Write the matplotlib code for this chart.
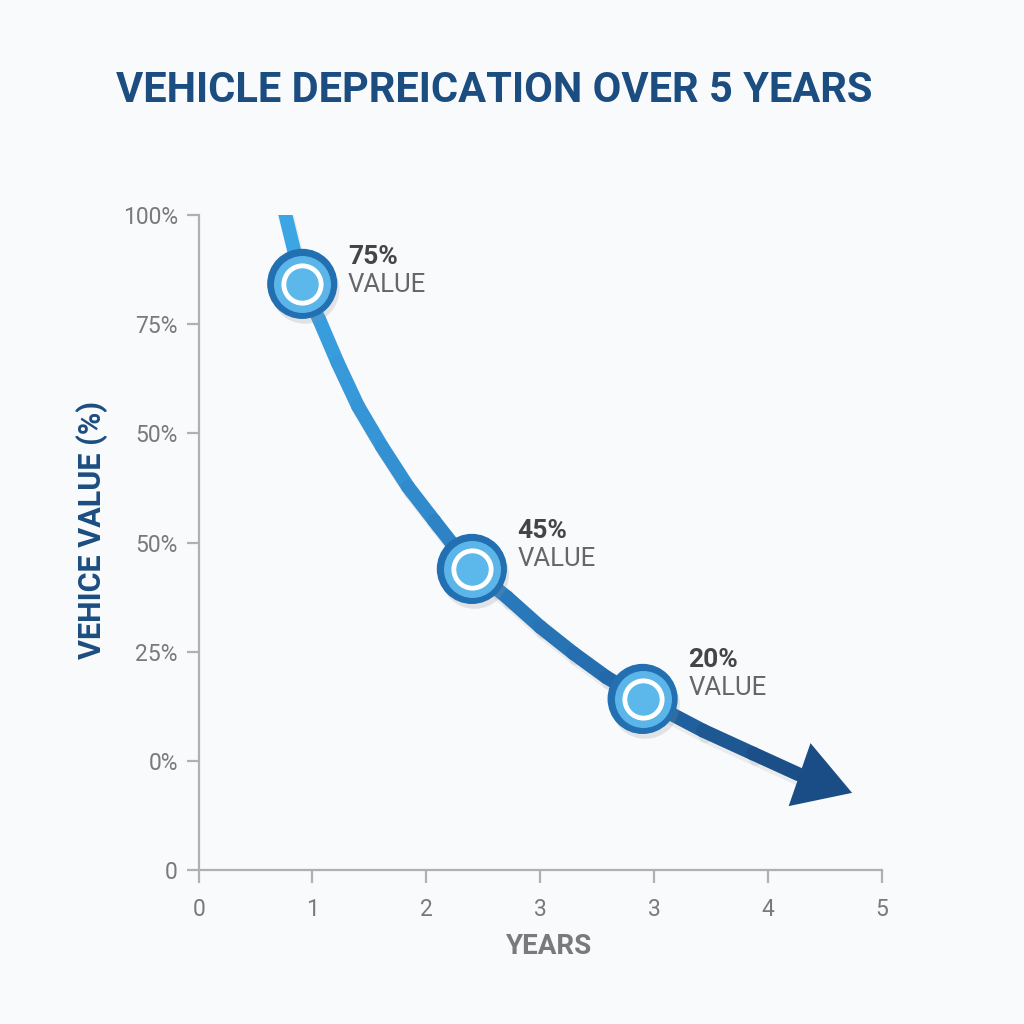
import numpy as np
import matplotlib
matplotlib.use("Agg")
import matplotlib.pyplot as plt
import matplotlib.patheffects as pe
from matplotlib.collections import LineCollection
from matplotlib.colors import LinearSegmentedColormap
from matplotlib import font_manager

# Tick positions and their (odd) labels, as shown in the picture
X_TICKS = [0, 1, 2, 3, 4, 5, 6]
X_LABELS = ["0", "1", "2", "3", "3", "4", "5"]
Y_TICKS = [0, 1, 2, 3, 4, 5, 6]
Y_LABELS = ["0", "0%", "25%", "50%", "50%", "75%", "100%"]

# Depreciation curve (axis units); last point is arrow tip
CURVE_X = [0.76, 0.91, 1.06, 1.22, 1.40, 1.61, 1.84, 2.07, 2.40, 2.71, 3.00,
           3.29, 3.58, 3.90, 4.43, 4.87, 5.27, 5.74]
CURVE_Y = [6.01, 5.37, 5.04, 4.65, 4.25, 3.88, 3.51, 3.20, 2.76, 2.50, 2.23,
           1.99, 1.77, 1.57, 1.28, 1.07, 0.88, 0.71]

# Highlighted points and their labels
MARK_X = [0.91, 2.40, 3.90]
MARK_Y = [5.37, 2.76, 1.57]
MARK_PCT = ["75%", "45%", "20%"]

TITLE = "VEHICLE DEPREICATION OVER 5 YEARS"
YLABEL = "VEHICE VALUE (%)"
XLABEL = "YEARS"

NAVY = "#1b4d80"
GRAY = "#7a7a7a"
AXIS_GRAY = "#b0b0b0"
# vertical offset (points) of the percent text above each marker
LABEL_RISE = [14, 22, 23]

available = {f.name for f in font_manager.fontManager.ttflist}
NARROW = "Liberation Sans Narrow" if "Liberation Sans Narrow" in available else "Roboto"
BODY = "Roboto" if "Roboto" in available else "DejaVu Sans"

fig = plt.figure(figsize=(10.24, 10.24), dpi=100)
fig.patch.set_facecolor("#f9fafb")
ax = fig.add_axes([0.194, 0.150, 0.667, 0.640])
ax.set_facecolor("none")
ax.set_xlim(0, 6)
ax.set_ylim(0, 6)

for s in ["top", "right"]:
    ax.spines[s].set_visible(False)
for s in ["left", "bottom"]:
    ax.spines[s].set_color(AXIS_GRAY)
    ax.spines[s].set_linewidth(1.6)

ax.set_xticks(X_TICKS)
ax.set_xticklabels(X_LABELS, fontsize=16.5, color=GRAY, family=BODY)
ax.set_yticks(Y_TICKS)
ax.set_yticklabels(Y_LABELS, fontsize=16.5, color=GRAY, family=BODY)
ax.tick_params(axis="both", length=9, width=1.6, color=AXIS_GRAY)
ax.tick_params(axis="y", pad=6)
ax.tick_params(axis="x", pad=11)

# gradient curve: light blue at the top fading to navy at the arrow
cmap = LinearSegmentedColormap.from_list(
    "dep", [(0.0, "#3ca5e4"), (0.3, "#3493d4"), (0.5, "#2b80c2"),
            (0.8, "#2369a9"), (1.0, "#1b4f88")])
pts = np.column_stack([CURVE_X[:-1], CURVE_Y[:-1]])
segs = np.stack([pts[:-1], pts[1:]], axis=1)
cols = cmap(np.linspace(0, 1, len(segs)))
lc = LineCollection(segs, colors=cols, linewidths=10, capstyle="round",
                    joinstyle="round", zorder=3)
lc.set_path_effects([pe.SimpleLineShadow(offset=(2, -4), shadow_color="#8a9099", alpha=0.14),
                     pe.Normal()])
ax.add_collection(lc)

# arrow head from last segment
ax.annotate("", xy=(CURVE_X[-1], CURVE_Y[-1]), xytext=(CURVE_X[-2], CURVE_Y[-2]),
            arrowprops=dict(arrowstyle="-|>,head_length=2.0,head_width=1.2",
                            mutation_scale=20, color="#1a4c86", lw=0,
                            shrinkA=0, shrinkB=0),
            zorder=4)

# markers
ax.scatter(MARK_X, MARK_Y, s=2450, color="#2270b2", zorder=5,
           path_effects=[pe.SimplePatchShadow(offset=(2, -4), shadow_rgbFace="#8a9099", alpha=0.22),
                         pe.Normal()])
ax.scatter(MARK_X, MARK_Y, s=1600, color="#5cb5e8", zorder=6)
ax.scatter(MARK_X, MARK_Y, s=860, color="white", zorder=7)
ax.scatter(MARK_X, MARK_Y, s=500, color="#5cb8ea", zorder=8)

for x, y, pct, rise in zip(MARK_X, MARK_Y, MARK_PCT, LABEL_RISE):
    ax.annotate(pct, (x, y), xytext=(33, rise), textcoords="offset points",
                fontsize=19, fontweight="bold", color="#454545", family=BODY,
                ha="left", va="baseline", zorder=9)
    ax.annotate("VALUE", (x, y), xytext=(33, rise - 20), textcoords="offset points",
                fontsize=18.5, color="#666666", family=BODY,
                ha="left", va="baseline", zorder=9)

fig.text(0.483, 1 - 90 / 1024, TITLE, fontsize=30, fontweight="bold", color=NAVY,
         family=NARROW, ha="center", va="center")
fig.text(92 / 1024, 1 - 530 / 1024, YLABEL, fontsize=22, fontweight="bold", color=NAVY,
         family=NARROW, rotation=90, ha="center", va="center")
fig.text(549 / 1024, 1 - 946 / 1024, XLABEL, fontsize=20, fontweight="bold", color=GRAY,
         family=NARROW, ha="center", va="center")

fig.savefig("out.png", dpi=100, facecolor=fig.get_facecolor())
